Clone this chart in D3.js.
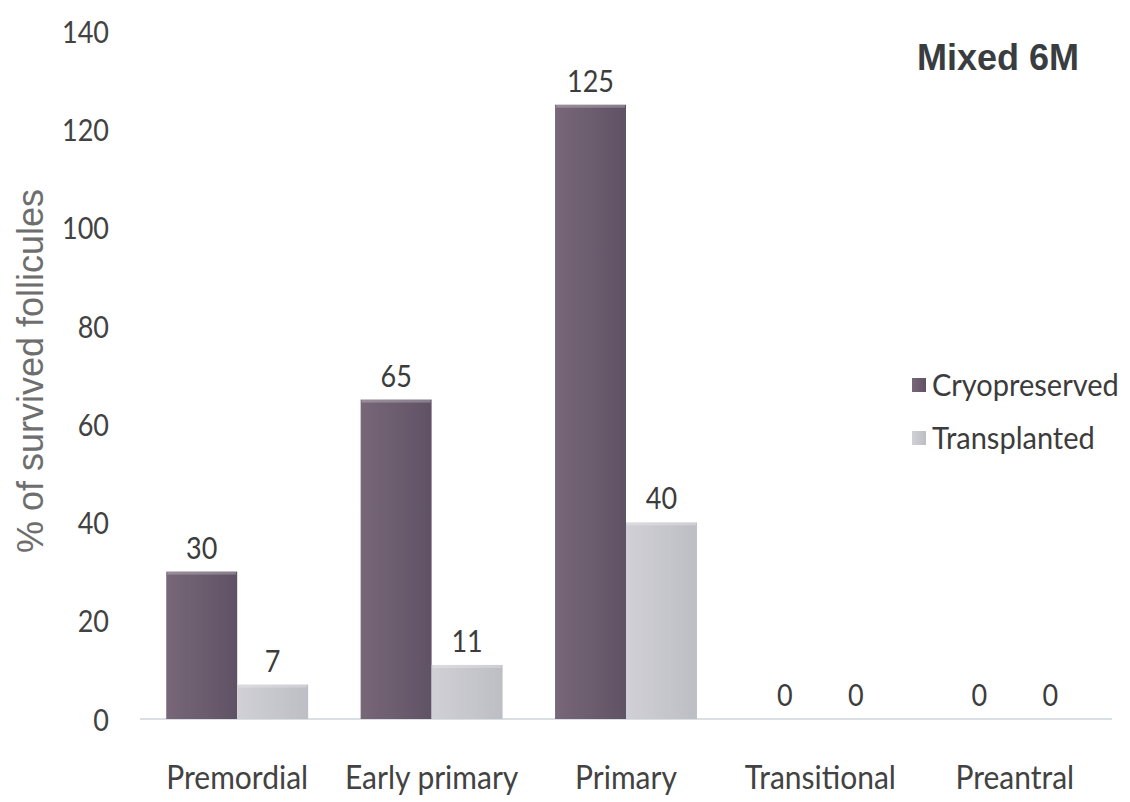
<!DOCTYPE html>
<html><head><meta charset="utf-8">
<script src="https://cdn.jsdelivr.net/npm/d3@7"></script>
<style>body{margin:0;background:#fff}</style>
</head><body><svg id="c" width="1130" height="802"></svg>
<script>
const categories = ["Premordial","Early primary","Primary","Transitional","Preantral"];
const seriesNames = ["Cryopreserved","Transplanted"];
const cryopreserved = [30,65,125,0,0];
const transplanted = [7,11,40,0,0];
const yTicks = [0,20,40,60,80,100,120,140];
const chartTitle = "Mixed 6M";
const yTitle = "% of survived follicules";

const seriesValues = [cryopreserved, transplanted];
const colors = {Cryopreserved:["#776778","#605265"], Transplanted:["#d0d0d6","#bdbdc4"]};
const labelFont = "Lato, 'Open Sans', sans-serif";
const sy = 1.15;

const svg = d3.select("#c");
const defs = svg.append("defs");
seriesNames.forEach((s,i)=>{
  const g = defs.append("linearGradient").attr("id","g"+i).attr("x1","0").attr("x2","1").attr("y1","0").attr("y2","0");
  g.append("stop").attr("offset","0%").attr("stop-color",colors[s][0]);
  g.append("stop").attr("offset","100%").attr("stop-color",colors[s][1]);
});

const x = d3.scaleBand().domain(categories).range([140,1112]).paddingInner(0.27).paddingOuter(0.135);
const xs = d3.scaleBand().domain(seriesNames).range([0,x.bandwidth()]);
const y = d3.scaleLinear().domain([0,140]).range([719,31]);

// y axis
const yAxis = svg.append("g").attr("transform","translate(109,0)")
  .call(d3.axisLeft(y).tickValues(yTicks).tickSize(0).tickPadding(0));
yAxis.select(".domain").remove();
yAxis.selectAll("text").attr("font-family",labelFont).attr("font-size",27).attr("fill","#424242")
  .attr("x",0).attr("dy","0.36em").attr("transform",`scale(1,${sy})`);

// x axis
const sxl = sy*0.93;
const xAxis = svg.append("g").attr("transform","translate(0,719)")
  .call(d3.axisBottom(x).tickSize(0).tickPadding(0));
xAxis.select(".domain").remove();
xAxis.selectAll("text").attr("font-family",labelFont).attr("font-size",30).attr("fill","#424242")
  .attr("y",70/sxl).attr("dy","0").attr("transform",`scale(1,${sxl})`);
svg.append("line").attr("x1",x.range()[0]).attr("x2",x.range()[1]).attr("y1",y(0)).attr("y2",y(0))
  .attr("stroke","#cdd4da").attr("stroke-width",1.5);

// bars
seriesNames.forEach((s,si)=>{
  const g = svg.append("g");
  const data = categories.map((c,i)=>({c, v:seriesValues[si][i]}));
  g.selectAll("rect.bar").data(data).join("rect").attr("class","bar")
    .attr("x",d=>x(d.c)+xs(s)).attr("width",xs.bandwidth())
    .attr("y",d=>y(d.v)).attr("height",d=>y(0)-y(d.v))
    .attr("fill",`url(#g${si})`);
  g.selectAll("rect.hl").data(data.filter(d=>d.v>0)).join("rect").attr("class","hl")
    .attr("x",d=>x(d.c)+xs(s)+1).attr("width",xs.bandwidth()-2)
    .attr("y",d=>y(d.v)).attr("height",3)
    .attr("fill","#ffffff").attr("opacity",0.25);
  g.selectAll("text").data(data).join("text")
    .attr("transform",d=>`translate(${x(d.c)+xs(s)+xs.bandwidth()/2},${y(d.v)-13}) scale(1,${sy})`)
    .attr("text-anchor","middle").attr("font-family",labelFont).attr("font-size",27).attr("fill","#3c3c3c")
    .text(d=>d.v);
});

// legend
const leg = svg.append("g");
seriesNames.forEach((s,i)=>{
  const cy = 385 + i*53;
  leg.append("rect").attr("x",912).attr("y",cy-7).attr("width",14).attr("height",14).attr("fill",`url(#g${i})`);
  leg.append("text").attr("transform",`translate(932,${cy+11}) scale(1,${sy*0.95})`)
    .attr("font-family",labelFont).attr("font-size",29).attr("fill","#3c3c3c").text(s);
});

// titles
svg.append("text").attr("transform","translate(43,371) rotate(-90)").attr("text-anchor","middle")
  .attr("font-family","'Liberation Sans', Arial, sans-serif").attr("font-size",36).attr("fill","#6e6e6e").text(yTitle);
svg.append("text").attr("x",917).attr("y",70)
  .attr("font-family","'Liberation Sans', Arial, sans-serif").attr("font-weight","bold").attr("font-size",36).attr("fill","#3a3d3f").text(chartTitle);
</script></body></html>
